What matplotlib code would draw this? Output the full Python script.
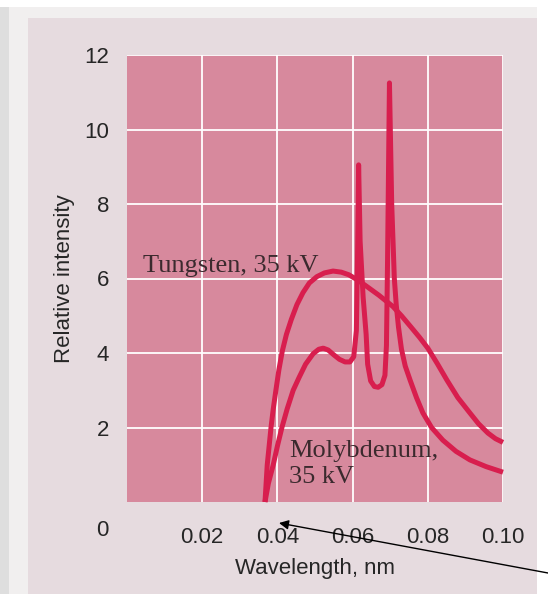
import matplotlib
matplotlib.use("Agg")
import matplotlib.pyplot as plt
from matplotlib.patches import Rectangle

# Continuous spectrum, tungsten target at 35 kV
tungsten_nm = [0.0367, 0.0370, 0.0373, 0.0378, 0.0383, 0.0389, 0.0396, 0.0404,
               0.0413, 0.0424, 0.0437, 0.0452, 0.0468, 0.0485, 0.0505, 0.0525,
               0.0548, 0.0570, 0.0590, 0.0615, 0.0640, 0.0670, 0.0707, 0.0730,
               0.0755, 0.0778, 0.0800, 0.0825, 0.0851, 0.0880, 0.0912, 0.0935,
               0.0960, 0.0980, 0.1000]
tungsten_int = [0.0, 0.5, 1.0, 1.5, 2.0, 2.5, 3.0, 3.55,
                4.05, 4.5, 4.9, 5.3, 5.62, 5.88, 6.05, 6.15,
                6.2, 6.17, 6.1, 5.95, 5.77, 5.55, 5.25, 5.0,
                4.7, 4.42, 4.13, 3.72, 3.27, 2.8, 2.39, 2.1,
                1.85, 1.7, 1.6]

# Molybdenum target at 35 kV, with K-beta and K-alpha lines
moly_nm = [0.0367, 0.0376, 0.0389, 0.0400, 0.0412, 0.0426, 0.0442, 0.0458,
           0.0475, 0.0495, 0.0510, 0.0522, 0.0535, 0.0550, 0.0565, 0.0580,
           0.0593, 0.0603, 0.0610, 0.0613, 0.0616, 0.0620, 0.0628, 0.0636,
           0.0640, 0.0648, 0.0658, 0.0668, 0.0678, 0.0686, 0.0690, 0.0693,
           0.0698, 0.0704, 0.0711, 0.0716, 0.0722, 0.0730, 0.0740, 0.0753,
           0.0770, 0.0787, 0.0810, 0.0840, 0.0875, 0.0912, 0.0955, 0.1000]
moly_int = [0.0, 0.5, 1.0, 1.5, 2.0, 2.5, 3.0, 3.35,
            3.7, 3.98, 4.1, 4.13, 4.08, 3.95, 3.83, 3.76,
            3.76, 3.9, 4.6, 6.5, 9.05, 7.0, 5.5, 4.5,
            3.7, 3.25, 3.1, 3.08, 3.15, 3.4, 4.2, 6.5,
            11.25, 8.0, 6.0, 5.3, 4.7, 4.1, 3.65, 3.27,
            2.8, 2.39, 2.0, 1.66, 1.36, 1.13, 0.95, 0.8]

x_ticks = [0.02, 0.04, 0.06, 0.08, 0.10]
x_labels = ["0.02", "0.04", "0.06", "0.08", "0.10"]
y_ticks = [2, 4, 6, 8, 10, 12]

curve_color = "#d81e4e"
plot_bg = "#d7899d"
panel_bg = "#e6dbdf"
text_dark = "#3b2a2e"
axis_text = "#262626"
label_font = ["Liberation Sans", "DejaVu Sans"]
serif_font = "Liberation Serif"

fig = plt.figure(figsize=(5.48, 5.94), dpi=100)
fig.patch.set_facecolor("#f1efef")

# page frame behind the chart
fig.add_artist(Rectangle((0, 0), 9 / 548, 1, transform=fig.transFigure,
                         facecolor="#dedede", edgecolor="none", zorder=-3))
fig.add_artist(Rectangle((0, 587 / 594), 1, 7 / 594, transform=fig.transFigure,
                         facecolor="white", edgecolor="none", zorder=-3))
fig.add_artist(Rectangle((537 / 548, 0), 11 / 548, 1, transform=fig.transFigure,
                         facecolor="white", edgecolor="none", zorder=-3))
fig.add_artist(Rectangle((28 / 548, 0), 509 / 548, 576 / 594, transform=fig.transFigure,
                         facecolor=panel_bg, edgecolor="none", zorder=-2))

ax = fig.add_axes([127 / 548, 92 / 594, 376 / 548, 447 / 594])
ax.set_facecolor(plot_bg)
ax.set_xlim(0, 0.10)
ax.set_ylim(0, 12)
for s in ax.spines.values():
    s.set_visible(False)

ax.set_xticks(x_ticks)
ax.set_xticklabels(x_labels)
ax.set_yticks(y_ticks)
ax.tick_params(length=0, labelsize=16, labelcolor=axis_text, pad=18)
ax.tick_params(axis="y", pad=13)
for lab in ax.get_xticklabels() + ax.get_yticklabels():
    lab.set_family(label_font)
ax.grid(True, color="white", linewidth=1.3)
ax.set_axisbelow(True)

ax.text(-0.065, -28 / 447, "0", transform=ax.transAxes, ha="center", va="center",
        fontsize=16, color=axis_text, family=label_font)

ax.plot(tungsten_nm, tungsten_int, color=curve_color, lw=3.6,
        solid_joinstyle="round", solid_capstyle="butt", clip_on=False)
ax.plot(moly_nm, moly_int, color=curve_color, lw=3.6,
        solid_joinstyle="round", solid_capstyle="butt", clip_on=False)

ax.text(0.0043, 6.33, "Tungsten, 35 kV", fontsize=19, family=serif_font,
        color=text_dark, ha="left", va="center")
ax.text(0.0431, 1.02, "Molybdenum,\n35 kV", fontsize=19, family=serif_font,
        color=text_dark, ha="left", va="center", linespacing=1.2)

ax.set_xlabel("Wavelength, nm", fontsize=16, color=axis_text, family=label_font)
ax.set_ylabel("Relative intensity", fontsize=16, color=axis_text, family=label_font)
ax.xaxis.set_label_coords(0.5, -56 / 447)
ax.yaxis.set_label_coords(-52 / 376, 0.5)

# pointer to the short-wavelength limit label
ax.annotate("", xy=(279, 71), xycoords="figure pixels",
            xytext=(548, 21), textcoords="figure pixels",
            arrowprops=dict(arrowstyle="-|>", color="black", lw=1.0,
                            mutation_scale=14, shrinkA=0, shrinkB=0),
            annotation_clip=False)

fig.savefig("out.png", dpi=100)
